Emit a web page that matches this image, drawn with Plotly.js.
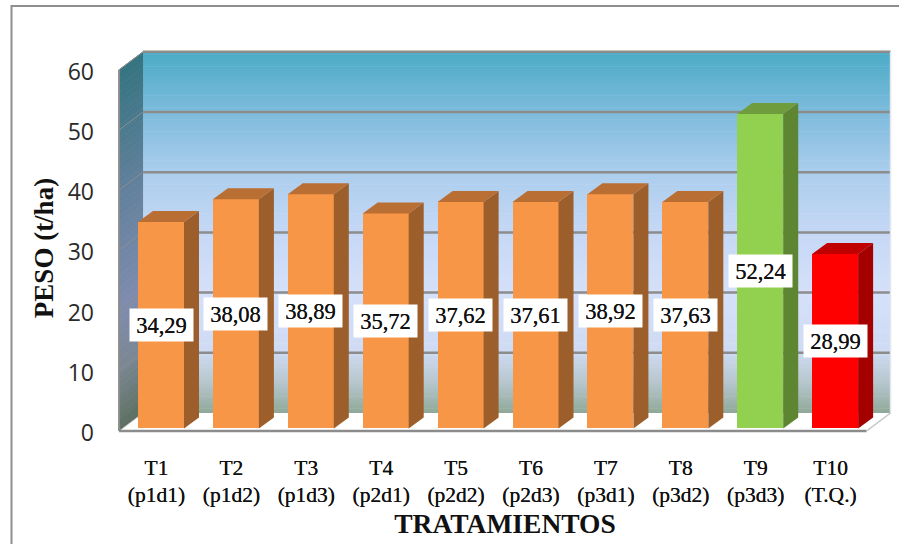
<!DOCTYPE html>
<html lang="es">
<head>
<meta charset="utf-8">
<title>Peso por tratamiento</title>
<script src="https://cdn.plot.ly/plotly-3.0.1.min.js"></script>
<style>
  html, body { margin: 0; padding: 0; background: #fff; }
  #chart { width: 899px; height: 544px; }
</style>
</head>
<body>
<div id="chart"></div>
<script>
// Treatment yields, t/ha
const treatments = ['T1', 'T2', 'T3', 'T4', 'T5', 'T6', 'T7', 'T8', 'T9', 'T10'];
const doses = ['(p1d1)', '(p1d2)', '(p1d3)', '(p2d1)', '(p2d2)', '(p2d3)', '(p3d1)', '(p3d2)', '(p3d3)', '(T.Q.)'];
const weights = [34.29, 38.08, 38.89, 35.72, 37.62, 37.61, 38.92, 37.63, 52.24, 28.99];
const weightLabels = ['34,29', '38,08', '38,89', '35,72', '37,62', '37,61', '38,92', '37,63', '52,24', '28,99'];
const yTicks = [0, 10, 20, 30, 40, 50, 60];

// Face colours of each prism: front, side, top
const ORANGE = ['#F79646', '#9C5E2B', '#B96F33'];
const GREEN = ['#92D050', '#5E8532', '#6F9D3D'];
const RED = ['#FF0000', '#A50000', '#C00000'];
const barFaces = [ORANGE, ORANGE, ORANGE, ORANGE, ORANGE, ORANGE, ORANGE, ORANGE, GREEN, RED];

// Wall gradients, from the top of the wall (0) to the floor (1)
const backWallStops = [[0, '#4BABC6'], [0.167, '#7DBBDC'], [0.333, '#ABCDED'], [0.5, '#C5D8F5'],
  [0.667, '#D5E0FA'], [0.83, '#CEDBF3'], [0.92, '#B5C5CB'], [1, '#8FA898']];
const sideWallStops = [[0, '#33737F'], [0.33, '#5F7F9A'], [0.66, '#7E8BAE'], [0.83, '#7A8691'], [1, '#5B6F60']];

// Scale of the drawing
const PX_PER_CATEGORY = 74.9;
const PX_PER_UNIT = 6.02;
const WALL_DX = 24 / PX_PER_CATEGORY, WALL_DY = 18 / PX_PER_UNIT;
const PRISM_DX = 15 / PX_PER_CATEGORY, PRISM_DY = 11 / PX_PER_UNIT;
const BAR_WIDTH = 46 / PX_PER_CATEGORY, BAR_OFFSET = -18.5 / PX_PER_CATEGORY;
const BAR_BASE = 0.42;
const BAR_SHIFT = BAR_OFFSET + BAR_WIDTH / 2;
const X_FRONT_LEFT = 0.5, X_FRONT_RIGHT = 10.48;
const X_RANGE = [0.4726, 10.833], Y_RANGE = [-2.492, 63.29];
const WALL_TOP = 60;
const GRID = '#8C8C8C';
const SERIF = '"Liberation Serif", serif';
const INK_SOFT_BOLD = '0 0 0.6px #111111';

const hexToRgb = h => [1, 3, 5].map(i => parseInt(h.slice(i, i + 2), 16));
function gradientAt(stops, t) {
  for (let i = 1; i < stops.length; i++) {
    if (t <= stops[i][0]) {
      const f = (t - stops[i - 1][0]) / (stops[i][0] - stops[i - 1][0]);
      const a = hexToRgb(stops[i - 1][1]), b = hexToRgb(stops[i][1]);
      return 'rgb(' + a.map((v, k) => Math.round(v + (b[k] - v) * f)).join(',') + ')';
    }
  }
  return stops[stops.length - 1][1];
}

const shapes = [];
const polygon = (pts, fill, line) => ({
  type: 'path', xref: 'x', yref: 'y', layer: 'below',
  path: 'M' + pts.map(p => p[0] + ',' + p[1]).join('L') + 'Z',
  fillcolor: fill, line: line || { width: 0 }
});
const segment = (x0, y0, x1, y1, color, width) => ({
  type: 'line', xref: 'x', yref: 'y', layer: 'below', x0, y0, x1, y1, line: { color, width }
});

// Back wall and left wall, painted as thin bands
const BANDS = 150;
const xBack = X_FRONT_LEFT + WALL_DX, xBackRight = X_FRONT_RIGHT + WALL_DX;
for (let b = 0; b < BANDS; b++) {
  const t = (b + 0.5) / BANDS;
  const hi = WALL_TOP * (1 - b / BANDS), lo = WALL_TOP * (1 - (b + 1) / BANDS) - 0.1;
  shapes.push(polygon([[xBack, hi + WALL_DY], [xBackRight, hi + WALL_DY], [xBackRight, lo + WALL_DY], [xBack, lo + WALL_DY]],
    gradientAt(backWallStops, t)));
  shapes.push(polygon([[X_FRONT_LEFT, hi], [xBack, hi + WALL_DY], [xBack, lo + WALL_DY], [X_FRONT_LEFT, lo]],
    gradientAt(sideWallStops, t)));
}

// Floor
shapes.push(polygon([[X_FRONT_LEFT, 0], [xBack, WALL_DY], [xBackRight, WALL_DY], [X_FRONT_RIGHT, 0]], '#FFFFFF'));

// Grid lines wrap around the two walls
yTicks.forEach(v => {
  shapes.push(segment(X_FRONT_LEFT, v, xBack, v + WALL_DY, v === 0 ? '#B9B9B9' : '#8A8F96', 1));
  if (v > 0) shapes.push(segment(xBack, v + WALL_DY, xBackRight, v + WALL_DY, GRID, 2.5));
});
shapes.push(segment(X_FRONT_LEFT, 0, X_FRONT_LEFT, WALL_TOP, GRID, 2));
shapes.push(segment(X_FRONT_LEFT, WALL_TOP, xBack, WALL_TOP + WALL_DY, GRID, 1));
shapes.push(segment(X_FRONT_LEFT, 0, X_FRONT_RIGHT, 0, GRID, 2.5));
shapes.push(segment(X_FRONT_RIGHT, 0, xBackRight, WALL_DY, '#C4C4C4', 1.5));
shapes.push(segment(xBackRight, WALL_DY, xBackRight, WALL_TOP + WALL_DY, '#E4E8EE', 1.5));

// Outer chart frame, open at the page edges
shapes.push({
  type: 'path', xref: 'paper', yref: 'paper', layer: 'below',
  path: 'M' + (-105.5 / 776) + ',-0.3L' + (-105.5 / 776) + ',' + (1 + 44 / 396) + 'L1.01,' + (1 + 44 / 396),
  line: { color: '#8E8E8E', width: 2 }
});

// Front faces are real bars; sides and tops are filled polygons on the same axes
const positions = weights.map((_, i) => i + 1);
const traces = [{
  type: 'bar', x: positions, y: weights, base: BAR_BASE, width: BAR_WIDTH, offset: BAR_OFFSET,
  marker: { color: barFaces.map(f => f[0]), line: { width: 0 } }, hoverinfo: 'skip', showlegend: false
}];
weights.forEach((w, i) => {
  const left = positions[i] + BAR_OFFSET, right = left + BAR_WIDTH;
  const top = BAR_BASE + w;
  const face = (xs, ys, color) => traces.push({
    type: 'scatter', mode: 'lines', x: xs, y: ys, fill: 'toself', fillcolor: color,
    line: { width: 0, color }, hoverinfo: 'skip', showlegend: false
  });
  face([right, right + PRISM_DX, right + PRISM_DX, right, right],
    [BAR_BASE, BAR_BASE + PRISM_DY, top + PRISM_DY, top, BAR_BASE], barFaces[i][1]);
  face([left, left + PRISM_DX, right + PRISM_DX, right, left],
    [top, top + PRISM_DY, top + PRISM_DY, top, top], barFaces[i][2]);
});

// White value tags centred on each bar
const annotations = weights.map((w, i) => ({
  x: positions[i] + BAR_SHIFT, y: BAR_BASE + w / 2, xref: 'x', yref: 'y',
  text: weightLabels[i], showarrow: false, width: 63, height: 32, bgcolor: '#FFFFFF', borderpad: 0,
  align: 'center', valign: 'middle', xanchor: 'center', yanchor: 'middle',
  font: { family: SERIF, size: 22.5, color: '#111111', shadow: INK_SOFT_BOLD }
}));

const layout = {
  width: 899, height: 544,
  margin: { l: 117, r: 6, t: 50, b: 98, pad: 0 },
  paper_bgcolor: '#FFFFFF', plot_bgcolor: 'rgba(0,0,0,0)',
  showlegend: false, bargap: 0,
  xaxis: {
    type: 'linear', range: X_RANGE, tickmode: 'array', tickvals: positions,
    ticktext: treatments.map((t, i) => t + '<br>' + doses[i]),
    showgrid: false, zeroline: false, showline: false, ticks: '', ticklabelstandoff: 6,
    tickangle: 0,
    tickfont: { family: SERIF, size: 21.5, color: '#111111', shadow: INK_SOFT_BOLD },
    title: { text: '<b>TRATAMIENTOS</b>', standoff: 7, font: { family: SERIF, size: 27.5, color: '#111111' } }
  },
  yaxis: {
    range: Y_RANGE, tickmode: 'array', tickvals: yTicks,
    showgrid: false, zeroline: false, showline: false, ticks: '', ticklabelstandoff: 22, ticklabelshift: 2,
    tickfont: { family: '"Open Sans", sans-serif', size: 23, color: '#2A2A2A' },
    title: { text: '<b>PESO (t/ha)</b>', standoff: 6, font: { family: SERIF, size: 27, color: '#111111' } }
  },
  shapes, annotations
};

Plotly.newPlot('chart', traces, layout, { displayModeBar: false, staticPlot: true });
</script>
</body>
</html>
